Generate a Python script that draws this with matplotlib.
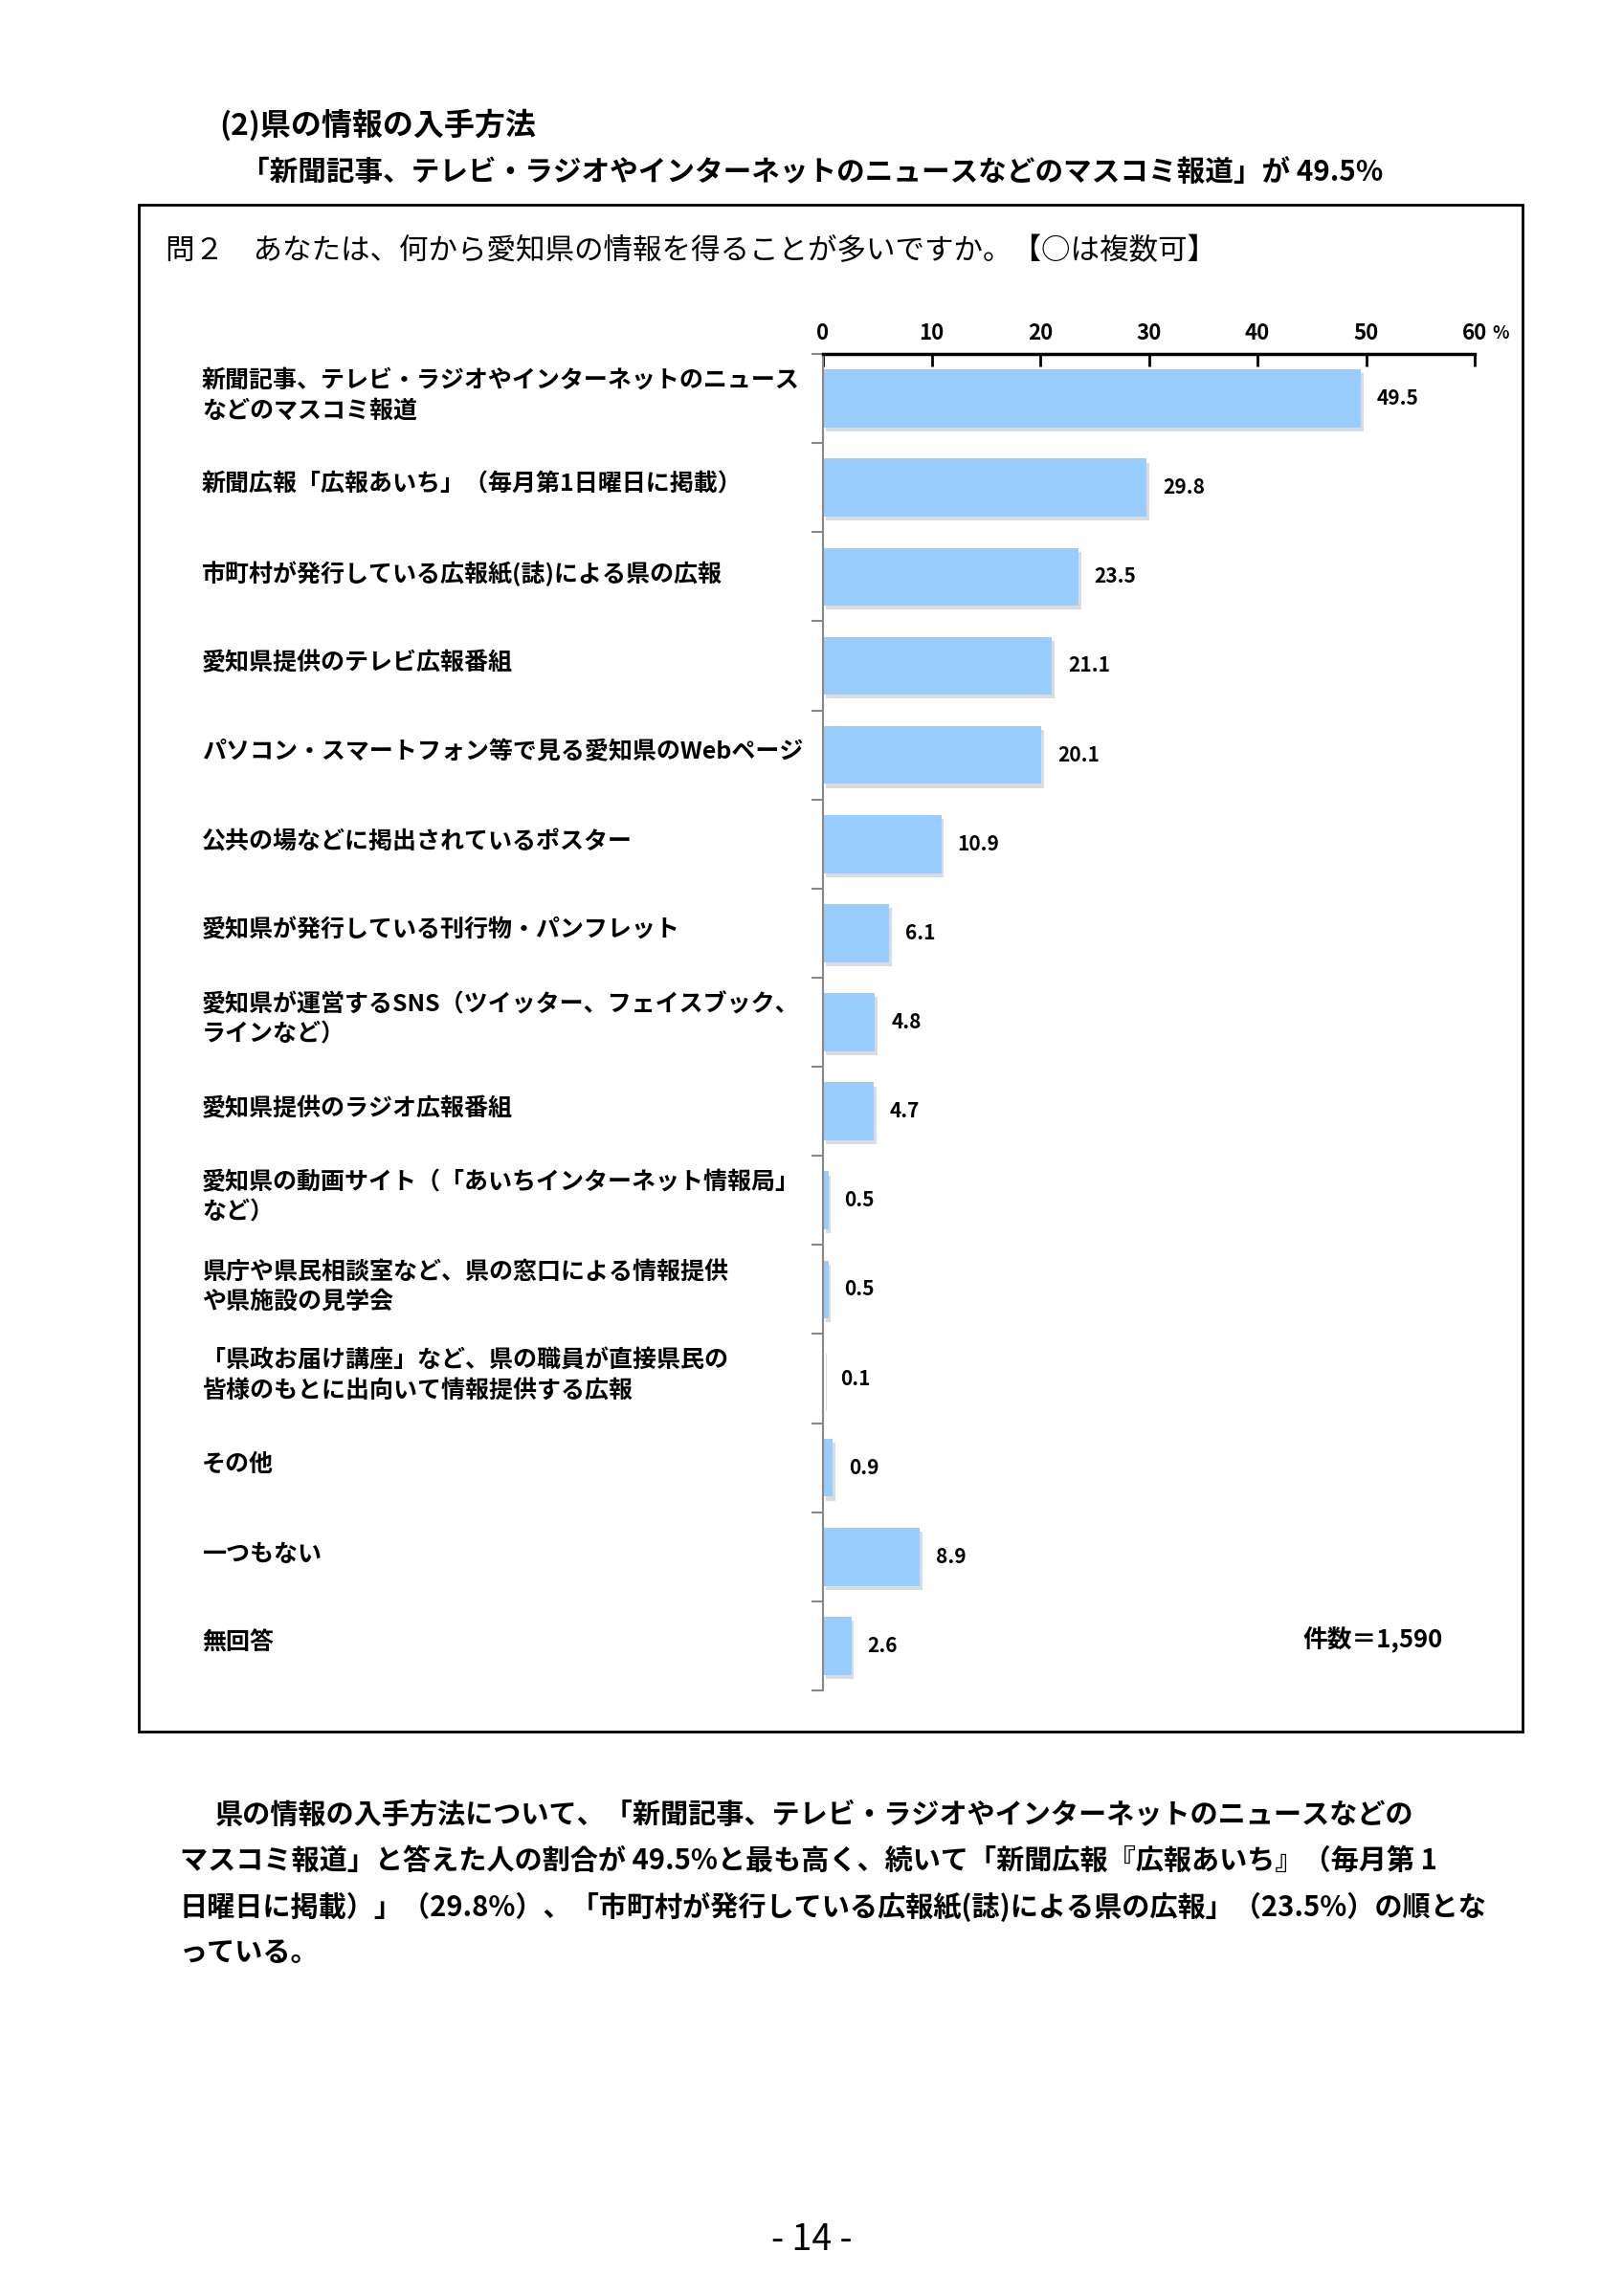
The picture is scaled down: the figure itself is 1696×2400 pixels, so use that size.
import numpy as np
import matplotlib.pyplot as plt
import matplotlib.patheffects as pe
import matplotlib.transforms as mtransforms
from matplotlib.patches import Rectangle

plt.rcParams['font.family'] = ['Noto Sans CJK JP', 'DejaVu Sans']

labels = [
    "新聞記事、テレビ・ラジオやインターネットのニュース\nなどのマスコミ報道",
    "新聞広報「広報あいち」（毎月第1日曜日に掲載）",
    "市町村が発行している広報紙(誌)による県の広報",
    "愛知県提供のテレビ広報番組",
    "パソコン・スマートフォン等で見る愛知県のWebページ",
    "公共の場などに掲出されているポスター",
    "愛知県が発行している刊行物・パンフレット",
    "愛知県が運営するSNS（ツイッター、フェイスブック、\nラインなど）",
    "愛知県提供のラジオ広報番組",
    "愛知県の動画サイト（「あいちインターネット情報局」\nなど）",
    "県庁や県民相談室など、県の窓口による情報提供\nや県施設の見学会",
    "「県政お届け講座」など、県の職員が直接県民の\n皆様のもとに出向いて情報提供する広報",
    "その他",
    "一つもない",
    "無回答",
]
values = [49.5, 29.8, 23.5, 21.1, 20.1, 10.9, 6.1, 4.8, 4.7, 0.5, 0.5, 0.1, 0.9, 8.9, 2.6]
xticks = [0, 10, 20, 30, 40, 50, 60]

title1 = "(2)県の情報の入手方法"
title2 = "「新聞記事、テレビ・ラジオやインターネットのニュースなどのマスコミ報道」が 49.5%"
question = "問２　あなたは、何から愛知県の情報を得ることが多いですか。【○は複数可】"
n_text = "件数＝1,590"
para = [
    "県の情報の入手方法について、「新聞記事、テレビ・ラジオやインターネットのニュースなどの",
    "マスコミ報道」と答えた人の割合が 49.5%と最も高く、続いて「新聞広報『広報あいち』（毎月第 1",
    "日曜日に掲載）」（29.8%）、「市町村が発行している広報紙(誌)による県の広報」（23.5%）の順とな",
    "っている。",
]

W, H = 1696, 2400
fig = plt.figure(figsize=(W / 100, H / 100), dpi=100)

def fx(px):
    return px / W

def fy(py):
    return 1 - py / H

# frame around the chart
fig.patches.append(Rectangle((fx(145), fy(1810)), fx(1591) - fx(145), fy(214) - fy(1810),
                             transform=fig.transFigure, fill=False, lw=2, ec='black'))

fig.text(fx(229), fy(131), title1, fontsize=23, fontweight='bold', va='center')
fig.text(fx(252), fy(180), title2, fontsize=21.3, fontweight='bold', va='center')
fig.text(fx(173), fy(263), question, fontsize=22, va='center')

ax = fig.add_axes([fx(860), fy(1767), fx(1541) - fx(860), fy(370) - fy(1767)])
y = np.arange(len(values))
bars = ax.barh(y, values, height=0.65, color='#99CCFF', zorder=2)
for b in bars:
    b.set_path_effects([pe.SimplePatchShadow(offset=(2, -3), shadow_rgbFace='#999999', alpha=0.35),
                        pe.Normal()])

for yi, v in zip(y, values):
    ax.annotate(f"{v:.1f}", (v, yi), xytext=(12, 0), textcoords='offset points',
                va='center', ha='left', fontsize=15, fontweight='bold')

ax.set_xlim(0, 60)
ax.set_ylim(len(values) - 0.5, -0.5)
ax.xaxis.tick_top()
ax.set_xticks(xticks)
ax.set_xticklabels([str(t) for t in xticks], fontsize=16, fontweight='bold')
ax.tick_params(axis='x', direction='in', length=9, width=2, pad=7)
ax.set_yticks(np.arange(len(values) + 1) - 0.5)
ax.set_yticklabels([])
ax.tick_params(axis='y', direction='out', length=9, width=1.5, color='#888888')
for s in ['right', 'bottom']:
    ax.spines[s].set_visible(False)
ax.spines['top'].set_linewidth(2.5)
ax.spines['left'].set_color('#888888')
ax.spines['left'].set_linewidth(1.5)

pct_trans = mtransforms.blended_transform_factory(ax.transData, ax.transAxes)
ax.annotate("%", (60, 1), xycoords=pct_trans, xytext=(13, 9), textcoords='offset points',
            fontsize=13, fontweight='bold', va='bottom', ha='left')

trans = mtransforms.blended_transform_factory(fig.transFigure, ax.transData)
for yi, lab in zip(y, labels):
    ax.text(fx(211), yi - 0.03, lab, transform=trans, fontsize=18, fontweight='bold',
            va='center', ha='left', linespacing=1.4)

fig.text(fx(1362), fy(1714), n_text, fontsize=18.5, fontweight='bold', va='center')

for i, line in enumerate(para):
    x0 = 225 if i == 0 else 188
    fig.text(fx(x0), fy(1897 + i * 48), line, fontsize=21, fontweight='bold', va='center')

fig.text(0.5, fy(2341), "- 14 -", fontsize=27, ha='center', va='center')

fig.savefig("out.png", dpi=100, facecolor='white')
